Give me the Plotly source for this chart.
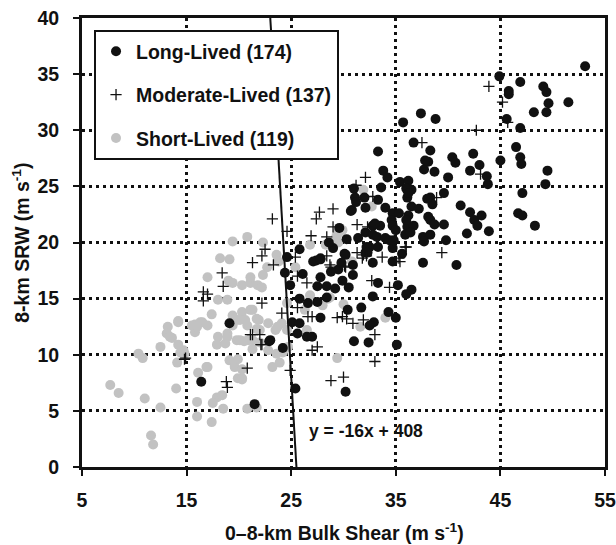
import plotly.graph_objects as go

# ---------------- data ----------------
long_x = [53.1,44.9,46.9,45.8,45.8,49.1,49.4,49.6,51.5,48.2,49.4,45.6,46.9,46.5,46.9,47.0,45.0,49.5,49.3,42.4,
          40.4,40.7,43.0,42.1,43.7,43.8,40.0,39.6,47.1,41.2,42.1,43.2,42.5,42.8,46.7,47.1,39.6,41.8,43.9,48.3,
          39.8,40.8,
          37.4,35.7,38.8,36.7,38.3,33.3,38.1,37.7,38.7,33.8,34.2,35.4,36.2,33.6,36.5,31.0,31.1,32.0,33.3,36.1,
          38.3,38.5,30.8,32.1,34.0,34.7,36.5,36.2,38.1,38.3,34.6,34.7,32.8,33.5,36.1,36.7,32.1,32.8,35.9,37.6,
          38.3,31.4,33.2,34.0,34.4,32.5,33.3,34.7,30.1,32.1,35.6,37.6,30.9,32.8,34.7,
          31.2,30.7,33.0,32.2,32.3,30.2,27.8,27.4,36.0,36.2,35.3,36.0,35.0,34.8,36.4,37.2,38.0,38.7,37.7,37.8,
          30.9,33.3,35.2,36.5,36.0,32.8,31.7,30.4,34.3,35.0,32.9,32.5,31.0,32.4,35.1,30.2,
          25.8,24.6,27.1,27.8,
          24.4,26.1,27.8,24.9,27.5,28.4,29.2,25.8,27.5,26.6,28.4,27.8,25.1,25.8,25.6,26.5,27.0,22.9,24.2,25.4,
          19.1,16.4,21.5,23.0,
          29.5,28.8,29.9,30.5,29.0,29.8,28.6,30.3,29.6]
long_y = [35.7,34.8,34.3,33.5,33.2,33.9,33.4,32.4,32.5,31.6,31.6,31.0,30.2,28.5,27.6,27.0,27.3,26.4,25.2,27.9,
          27.6,27.1,26.9,26.4,25.9,25.2,25.8,24.4,24.4,23.3,22.7,22.4,22.0,21.5,22.6,22.4,21.6,20.8,21.0,21.5,
          20.2,18.0,
          31.5,30.7,31.0,28.9,28.2,28.1,27.2,26.5,26.3,26.4,25.8,25.4,25.5,24.9,24.7,24.8,24.0,24.0,23.8,24.0,
          24.0,23.4,22.9,23.1,23.1,22.6,23.2,22.4,22.3,22.0,22.0,21.5,21.5,21.5,21.4,21.5,20.9,20.7,20.7,20.5,
          20.7,20.4,20.5,20.4,20.2,19.6,19.6,19.5,19.0,19.1,19.0,18.2,18.0,18.2,18.3,
          23.6,22.8,21.7,19.6,19.1,18.9,18.6,18.4,24.8,24.4,22.6,22.0,21.1,20.2,20.9,23.0,23.9,21.6,20.1,27.3,
          17.1,16.4,16.2,15.8,15.4,15.2,14.2,14.0,13.8,13.3,12.9,12.6,11.2,11.1,10.9,6.7,
          19.4,18.7,18.3,18.5,
          17.3,17.2,16.9,16.2,16.1,16.1,15.9,15.0,14.7,14.6,15.1,13.3,12.9,12.8,11.9,11.6,11.6,11.2,10.6,7.0,
          12.8,7.6,5.6,11.3,
          17.6,17.4,16.6,16.0,19.5,18.2,20.0,20.3,21.3]

mod_x = [43.9,45.2,45.7,42.7,43.1,39.4,
         37.5,32.1,32.8,31.3,38.9,35.9,31.3,31.9,32.2,33.7,35.4,30.1,
         32.7,34.4,29.9,30.3,30.9,31.9,33.0,33.0,30.0,
         23.2,27.7,27.4,29.0,24.6,29.0,26.9,28.4,22.5,22.2,21.3,23.3,25.4,28.4,28.7,
         25.6,26.5,22.2,25.6,26.6,27.0,24.1,29.4,21.3,22.1,27.0,27.5,24.9,20.8,28.8,
         18.4,18.5,16.6,17.0,16.6,
         14.9,18.8,18.9,
         21.1,22.0,22.2,14.8,
         31.2,32.3,36.0,35.3,31.8,30.2,28.8]
mod_y = [33.9,32.5,30.7,30.0,26.1,19.1,
         28.9,25.8,24.1,21.6,24.0,19.6,19.1,18.9,18.8,18.7,18.3,17.9,
         16.6,16.0,13.4,13.2,12.8,13.1,11.8,9.4,8.0,
         22.1,22.7,22.1,23.0,21.0,21.4,20.6,20.5,19.4,18.8,18.2,18.0,18.7,18.8,18.0,
         17.0,16.4,14.6,14.2,13.4,13.4,13.7,13.3,11.8,10.9,10.4,10.7,8.6,8.8,7.7,
         17.3,16.1,15.6,15.4,14.8,
         9.7,7.6,7.1,
         11.8,11.8,10.9,9.6,
         25.1,21.4,19.6,18.6,18.6,17.8,17.8]

short_x = [20.8,22.3,23.6,23.8,26.8,28.3,29.4,29.5,25.4,22.7,
           20.3,21.1,22.3,21.8,20.3,21.1,20.6,21.9,22.8,23.5,24.1,21.3,20.5,22.8,22.0,24.7,24.6,26.5,29.4,23.2,
           20.3,24.6,26.3,26.8,28.7,
           19.4,18.2,19.1,17.0,19.0,19.4,18.0,18.9,17.4,13.2,14.2,15.8,16.5,17.0,19.8,
           13.1,13.6,14.2,14.7,12.5,10.4,10.8,14.1,15.8,18.0,18.9,17.9,18.7,19.8,19.1,19.6,19.9,16.1,16.9,7.7,
           8.5,11.0,14.0,12.5,16.0,17.9,17.5,18.5,16.0,17.4,11.6,11.8,
           21.1,22.2,19.4,20.1,20.8,19.4,21.7,21.3,21.7,23.7,18.9,20.1,20.9,22.0,21.3,19.9,20.3,20.3,17.0,18.4,
           20.8,21.7,23.9,24.2,23.6,13.4,14.4,14.2,14.8,16.3,16.0,15.5,
           30.0,31.6,34.0,31.9,32.7,29.9,30.8,29.3,29.5,28.5,28.0]
short_y = [20.5,20.0,18.9,18.3,19.8,19.8,20.7,21.1,17.8,17.8,
           16.2,16.4,17.1,16.2,13.8,14.0,13.1,13.1,12.8,12.2,12.8,11.3,11.2,10.4,12.2,10.7,12.2,12.2,9.7,8.9,
           7.9,14.6,14.0,15.3,15.1,
           20.1,18.6,18.5,16.9,16.6,16.4,14.9,14.9,13.6,12.5,12.9,12.7,12.9,12.6,13.1,
           11.9,11.5,10.9,10.4,10.7,10.1,9.7,9.3,12.0,11.6,11.9,10.9,11.0,11.3,9.5,8.9,7.9,8.4,8.9,7.3,
           6.6,6.1,7.0,5.3,5.8,6.2,5.7,5.2,4.5,4.0,2.8,2.0,
           16.9,16.0,13.5,13.1,12.6,12.6,13.2,14.0,12.3,12.5,11.6,11.3,11.3,11.1,10.5,9.6,8.7,7.8,8.9,6.4,
           5.2,5.3,9.3,10.2,10.1,11.6,10.2,13.0,10.1,12.9,12.5,12.6,
           14.5,12.5,13.3,24.7,23.2,21.1,18.3,20.5,20.0,15.0,14.4]

series_names = ["Long-Lived (174)", "Moderate-Lived (137)", "Short-Lived (119)"]
x_title = "0\u20138-km Bulk Shear (m s<sup>-1</sup>)"
y_title = "8-km SRW (m s<sup>-1</sup>)"

# separating line  y = slope*x + intercept
slope = -16
intercept = 408
line_label = "y = -16x + 408"

x_range = [5, 55]
y_range = [0, 40]

# ---------------- figure ----------------
FONT = "Liberation Sans, Arial, sans-serif"
FS = 19.5
line_y = y_range
line_x = [(yy - intercept) / slope for yy in line_y]

fig = go.Figure()
fig.add_trace(go.Scatter(x=short_x, y=short_y, mode="markers", name=series_names[2],
                         legendgroup="c", legendrank=3,
                         marker=dict(symbol="circle", size=10, color="#c2c2c2")))
fig.add_trace(go.Scatter(x=long_x, y=long_y, mode="markers", name=series_names[0],
                         legendgroup="a", legendrank=1,
                         marker=dict(symbol="circle", size=10, color="#111111")))
fig.add_trace(go.Scatter(x=mod_x, y=mod_y, mode="markers", name=series_names[1],
                         legendgroup="b", legendrank=2,
                         marker=dict(symbol="cross-thin", size=8, color="#111111",
                                     line=dict(width=1.3, color="#111111"))))
fig.add_trace(go.Scatter(x=line_x, y=line_y, mode="lines", showlegend=False,
                         line=dict(color="#111111", width=2), hoverinfo="skip"))

fig.add_annotation(x=26.5, y=3.2, xref="x", yref="y", text=line_label, showarrow=False,
                   xanchor="left", yanchor="middle",
                   font=dict(family=FONT, size=17.5, color="#111111", weight="bold"))

title_font = dict(family=FONT, size=FS, color="#111111", weight="bold")
# axis titles as paper annotations (precise placement)
fig.add_annotation(x=0.501, y=-0.145, xref="paper", yref="paper", text=x_title,
                   showarrow=False, xanchor="center", yanchor="middle", font=title_font)
fig.add_annotation(x=-0.118, y=0.5, xref="paper", yref="paper", text=y_title,
                   showarrow=False, xanchor="center", yanchor="middle", textangle=-90,
                   font=title_font)

axis_common = dict(
    showline=True, linecolor="#111111", linewidth=3, mirror=True,
    ticks="outside", ticklen=6, tickwidth=2, tickcolor="#111111",
    showgrid=True, gridcolor="#111111", gridwidth=2.5, griddash="3px,4px",
    zeroline=False, automargin=False,
    tickfont=dict(family=FONT, size=FS, color="#111111", weight="bold"),
)

fig.update_xaxes(range=x_range, tick0=5, dtick=10, ticklabelstandoff=8, **axis_common)
fig.update_yaxes(range=y_range, tick0=0, dtick=5, ticklabelstandoff=10, **axis_common)

fig.update_layout(
    width=616, height=545,
    margin=dict(l=82, r=11, t=18, b=78),
    paper_bgcolor="white", plot_bgcolor="white",
    showlegend=True,
    legend=dict(x=0.023, y=0.973, xanchor="left", yanchor="top",
                bgcolor="white", bordercolor="#111111", borderwidth=2,
                tracegroupgap=15, traceorder="grouped", itemwidth=30,
                font=dict(family=FONT, size=FS, color="#111111", weight="bold")),
)

fig.write_html("out.html")
